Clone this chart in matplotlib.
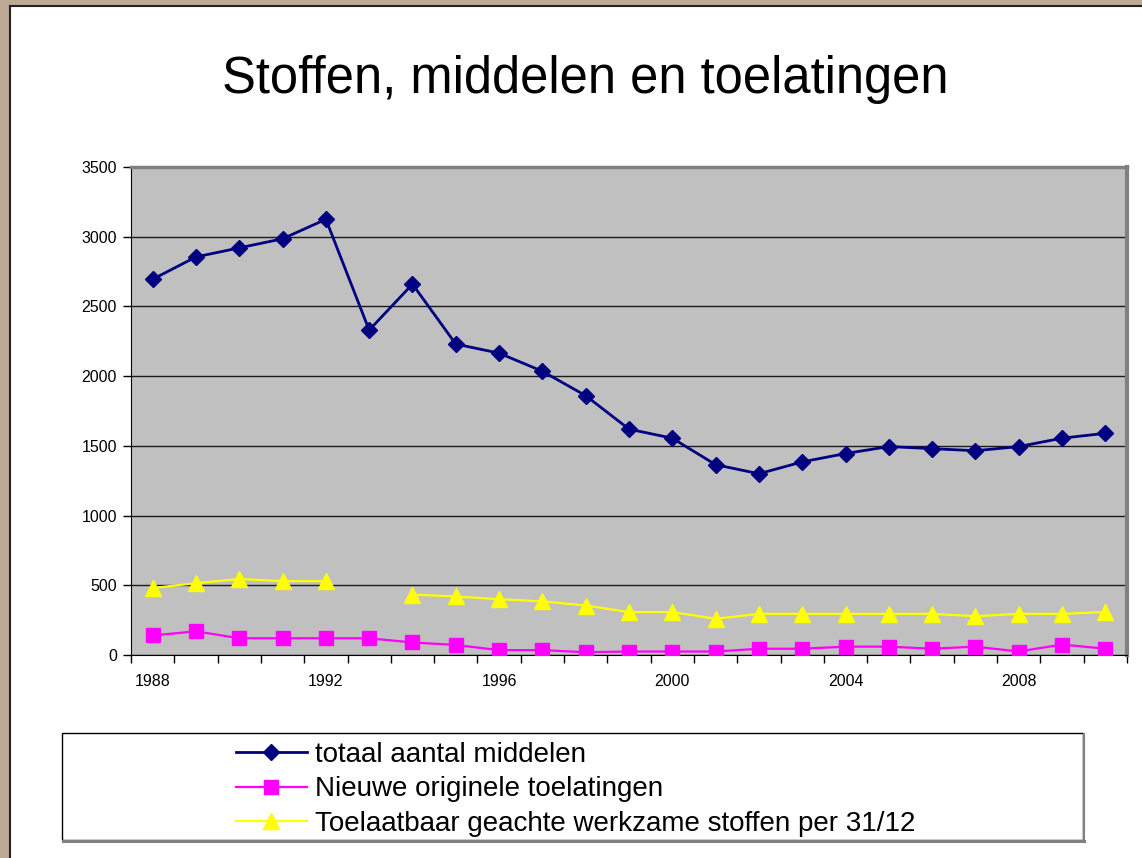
import matplotlib.pyplot as plt
import numpy as np
from matplotlib.patches import Rectangle
from matplotlib.lines import Line2D

plt.rcParams['font.family'] = ['Liberation Sans', 'DejaVu Sans']

years = list(range(1988, 2011))
totaal = [2695, 2855, 2920, 2985, 3125, 2330, 2660, 2230, 2165, 2035, 1860, 1620,
          1555, 1365, 1300, 1385, 1445, 1495, 1480, 1465, 1495, 1555, 1590]
nieuwe = [140, 170, 120, 120, 120, 120, 90, 72, 35, 35, 20, 25,
          25, 25, 45, 45, 60, 60, 45, 60, 25, 75, 45]
toelaatbaar = [480, 515, 545, 530, 530, np.nan, 433, 420, 400, 385, 355, 308,
               308, 260, 295, 295, 295, 295, 295, 278, 295, 295, 308]
x_labels = [1988, 1992, 1996, 2000, 2004, 2008]

W, H = 1142, 858
fig = plt.figure(figsize=(W / 100, H / 100), dpi=100)
fig.patch.set_facecolor('white')

# frame around the slide
tan = '#bfa994'
fig.patches.append(Rectangle((0, 1 - 5 / H), 1, 5 / H, transform=fig.transFigure, color=tan, zorder=0))
fig.patches.append(Rectangle((0, 0), 9 / W, 1, transform=fig.transFigure, color=tan, zorder=0))
fig.add_artist(Line2D([9.5 / W, 9.5 / W], [0, 1 - 5.5 / H], transform=fig.transFigure, color='#222222', lw=1.5))
fig.add_artist(Line2D([9.5 / W, 1], [1 - 6 / H, 1 - 6 / H], transform=fig.transFigure, color='#222222', lw=1.5))

ax = fig.add_axes([131 / W, 1 - 655 / H, (1127 - 131) / W, (655 - 167) / H])
ax.set_facecolor('#c0c0c0')

ax.plot(years, totaal, color='#000080', lw=2, marker='D', ms=8.5,
        mfc='#000080', mec='#000080', label='totaal aantal middelen', zorder=5)
ax.plot(years, nieuwe, color='#ff00ff', lw=1.6, marker='s', ms=10,
        mfc='#ff00ff', mec='#ff00ff', label='Nieuwe originele toelatingen', zorder=4)
ax.plot(years, toelaatbaar, color='#ffff00', lw=1.6, marker='^', ms=12,
        mfc='#ffff00', mec='#ffff00', label='Toelaatbaar geachte werkzame stoffen per 31/12', zorder=4)

ax.set_xlim(1987.5, 2010.5)
ax.set_ylim(0, 3500)
ax.set_yticks(range(0, 3501, 500))
ax.yaxis.grid(True, color='#1a1a1a', lw=1)
ax.set_axisbelow(True)

ax.set_xticks(np.arange(1987.5, 2011, 1))
ax.set_xticklabels([])
ax.set_xticks(x_labels, minor=True)
ax.set_xticklabels([str(y) for y in x_labels], minor=True)
ax.tick_params(axis='x', which='major', length=6, width=1, direction='out')
ax.tick_params(axis='x', which='minor', length=0, pad=13.5, labelsize=11.5)
ax.tick_params(axis='y', length=6, width=1, labelsize=11.5, pad=4)

ax.spines['left'].set_color('black')
ax.spines['bottom'].set_color('black')
ax.spines['top'].set_color('#808080')
ax.spines['top'].set_linewidth(2.5)
ax.spines['right'].set_color('#808080')
ax.spines['right'].set_linewidth(3)

fig.text(585 / W, 1 - 93 / H, 'Stoffen, middelen en toelatingen', fontsize=36.5,
         ha='center', va='baseline')

# legend box
fig.patches.append(Rectangle((62 / W, 1 - 840 / H), (1083 - 62) / W, (840 - 733) / H,
                             transform=fig.transFigure, facecolor='white',
                             edgecolor='black', lw=1, zorder=1))
fig.add_artist(Line2D([63 / W, 1084 / W], [1 - 841 / H, 1 - 841 / H], transform=fig.transFigure,
                      color='#808080', lw=2.2))
fig.add_artist(Line2D([1084 / W, 1084 / W], [1 - 841 / H, 1 - 734 / H], transform=fig.transFigure,
                      color='#808080', lw=1.5))
handles, labels = ax.get_legend_handles_labels()
leg = fig.legend(handles, labels, loc='upper left', bbox_to_anchor=(236 / W, 1 - 742 / H),
                 frameon=False, fontsize=20, handlelength=2.55, handletextpad=0.29,
                 labelspacing=0.3, borderpad=0, borderaxespad=0)
leg.set_zorder(3)

fig.savefig('out.png', dpi=100)
